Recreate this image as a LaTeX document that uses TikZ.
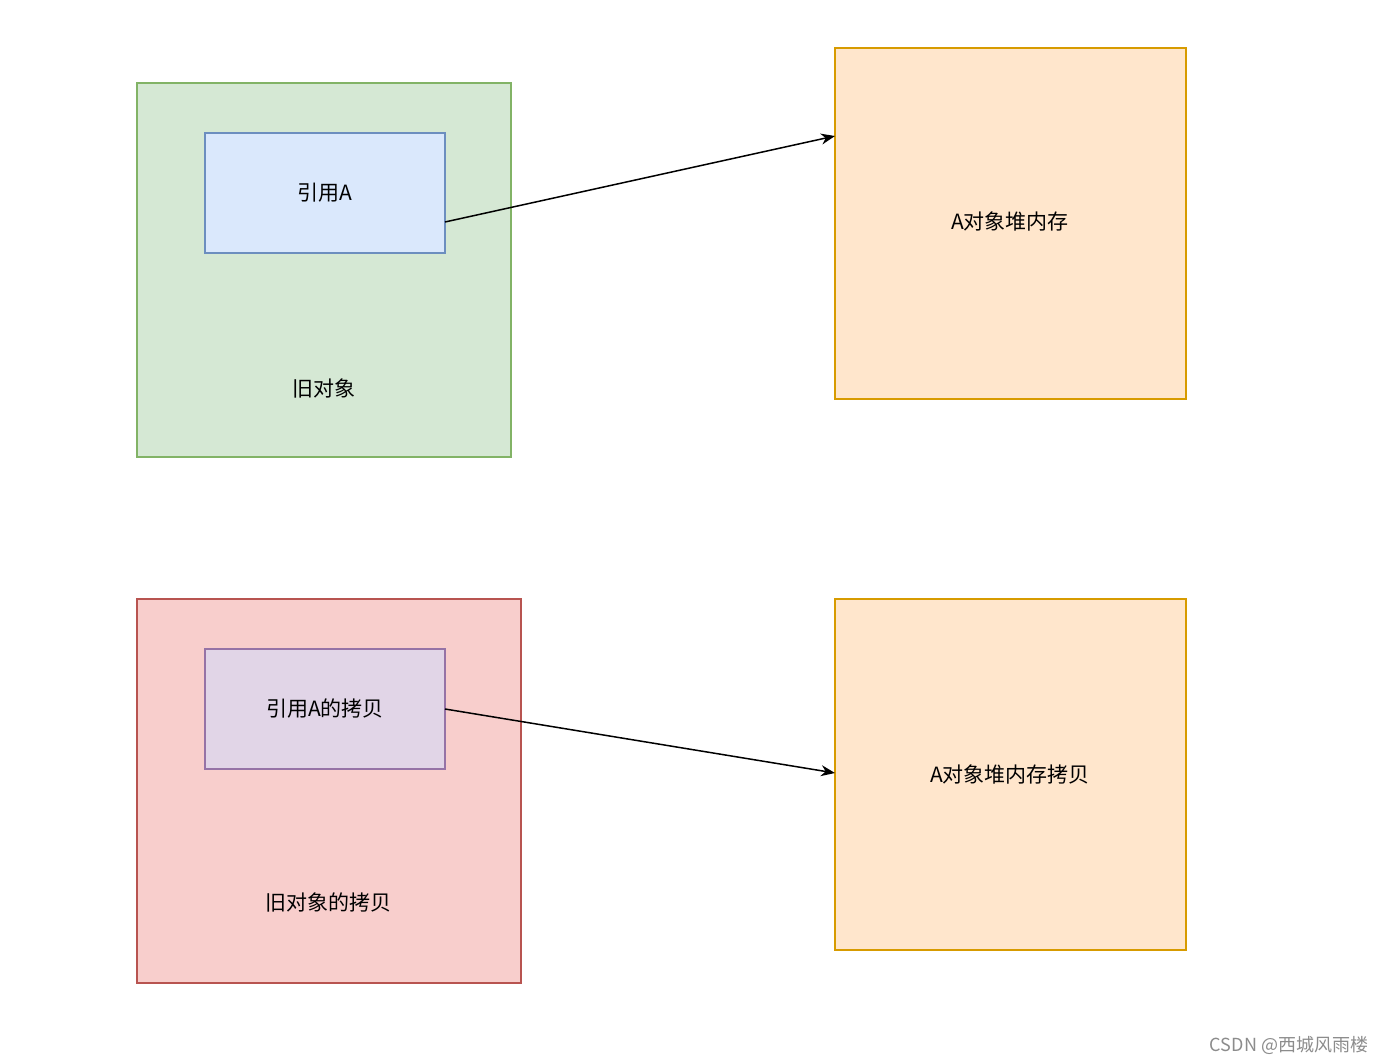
\documentclass[tikz,border=0pt]{standalone}
\usepackage{fontspec}
\setmainfont{Noto Sans CJK SC}
\usetikzlibrary{arrows.meta}
\definecolor{gF}{HTML}{D5E8D4}\definecolor{gD}{HTML}{82B366}
\definecolor{bF}{HTML}{DAE8FC}\definecolor{bD}{HTML}{6C8EBF}
\definecolor{oF}{HTML}{FFE6CC}\definecolor{oD}{HTML}{D79B00}
\definecolor{rF}{HTML}{F8CECC}\definecolor{rD}{HTML}{B85450}
\definecolor{pF}{HTML}{E1D5E7}\definecolor{pD}{HTML}{9673A6}
\tikzset{box/.style={line width=1.3pt},
lbl/.style={font=\fontsize{21}{24}\selectfont},
arr/.style={line width=1.5pt,-{Stealth[length=14pt,width=11pt]}}}
\begin{document}
\begin{tikzpicture}[x=1pt,y=-1pt]
\useasboundingbox[fill=white] (0,0) rectangle (1390,1064);
\draw[box,fill=gF,draw=gD] (137,83) rectangle (511,457);
\node[lbl] (old) at (324,388) {旧对象};
\draw[box,fill=bF,draw=bD] (205,133) rectangle (445,253);
\node[lbl] (refA) at (325,193) {引用A};
\draw[box,fill=oF,draw=oD] (835,48) rectangle (1186,399);
\node[lbl] (heap) at (1010,222) {A对象堆内存};
\draw[box,fill=rF,draw=rD] (137,599) rectangle (521,983);
\node[lbl] (oldc) at (328,902) {旧对象的拷贝};
\draw[box,fill=pF,draw=pD] (205,649) rectangle (445,769);
\node[lbl] (refAc) at (325,709) {引用A的拷贝};
\draw[box,fill=oF,draw=oD] (835,599) rectangle (1186,950);
\node[lbl] (heapc) at (1010,774) {A对象堆内存拷贝};
\coordinate (s1) at (445,222); \coordinate (e1) at (835,136);
\coordinate (s2) at (445,709); \coordinate (e2) at (835,773);
\draw[arr] (s1) -- (e1);
\draw[arr] (s2) -- (e2);
\node[font=\fontsize{18}{20}\selectfont,text=black!45] (wm) at (1289,1045) {CSDN @西城风雨楼};
\end{tikzpicture}
\end{document}
